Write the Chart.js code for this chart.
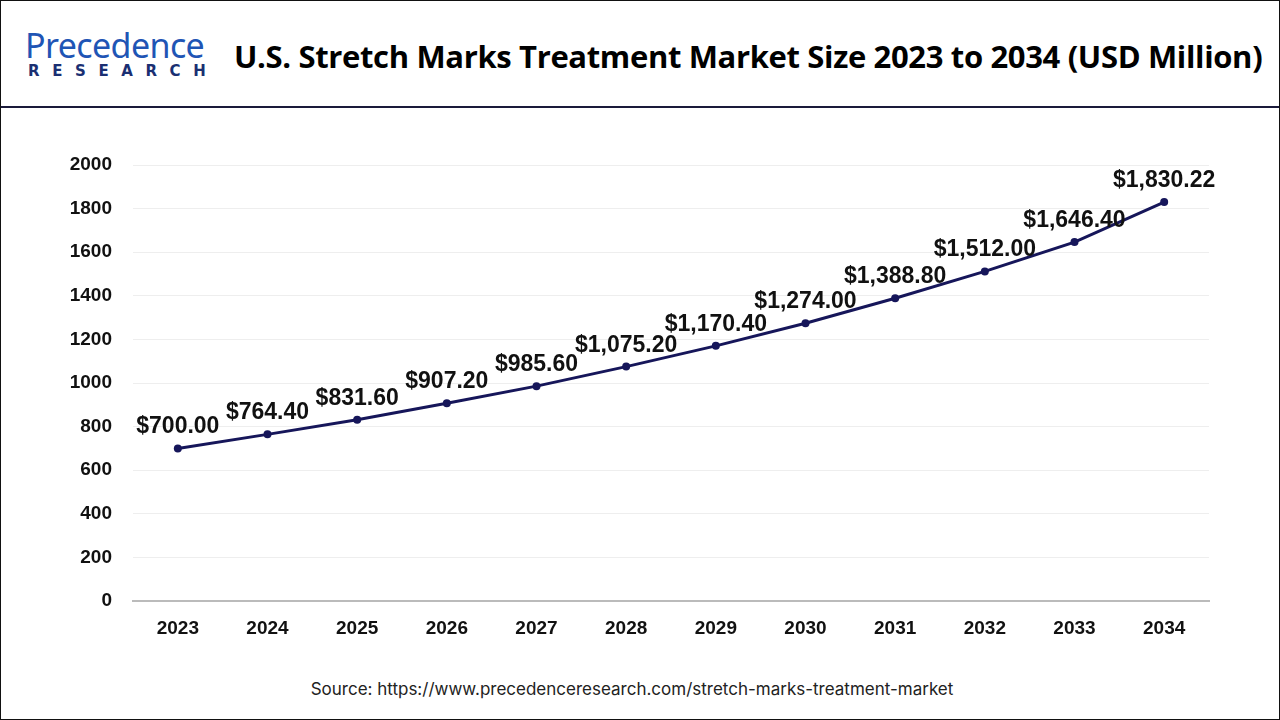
<!DOCTYPE html>
<html>
<head>
<meta charset="utf-8">
<script src="https://cdn.jsdelivr.net/npm/chart.js@4.4.0/dist/chart.umd.min.js"></script>
<style>
  html, body { margin:0; padding:0; background:#fff; }
  #frame { position:absolute; left:0; top:0; width:1278px; height:718px; border:1px solid #111; overflow:hidden; }
  #header { position:absolute; left:0; top:0; width:1278px; height:105px; border-bottom:2px solid #1a1a3a; }
  #logo1 { position:absolute; left:24px; top:26px; font-family:"Noto Sans", sans-serif; font-size:34px; color:#1f55b5; letter-spacing:-0.6px; line-height:36px; }
  #logo2 { position:absolute; left:27px; top:62px; font-family:"DejaVu Sans", sans-serif; font-weight:bold; font-size:15px; color:#1a2f72; letter-spacing:12.6px; line-height:16px; }
  #title { position:absolute; left:233px; top:34px; font-family:"Open Sans", sans-serif; font-weight:bold; font-size:31px; color:#000; line-height:42px; white-space:nowrap; letter-spacing:-0.35px; }
  #wrap { position:absolute; left:0; top:110px; width:1278px; height:560px; }
  #source { position:absolute; left:-8px; width:1278px; top:678px; text-align:center; font-family:"Inter", sans-serif; font-size:17px; color:#222; }
</style>
</head>
<body>
<div id="frame">
  <div id="header">
    <div id="logo1">Precedence</div>
    <div id="logo2">RESEARCH</div>
    <div id="title">U.S. Stretch Marks Treatment Market Size 2023 to 2034 (USD Million)</div>
  </div>
  <div id="wrap"><canvas id="c"></canvas></div>
  <div id="source">Source: https://www.precedenceresearch.com/stretch-marks-treatment-market</div>
</div>
<script>
const years = ["2023","2024","2025","2026","2027","2028","2029","2030","2031","2032","2033","2034"];
const marketSize = [700.00, 764.40, 831.60, 907.20, 985.60, 1075.20, 1170.40, 1274.00, 1388.80, 1512.00, 1646.40, 1830.22];
const yTicks = [0, 200, 400, 600, 800, 1000, 1200, 1400, 1600, 1800, 2000];

function fmt(v) {
  return "$" + v.toLocaleString("en-US", {minimumFractionDigits:2, maximumFractionDigits:2});
}

const labelPlugin = {
  id: "valueLabels",
  afterDatasetsDraw(chart) {
    const ctx = chart.ctx;
    const meta = chart.getDatasetMeta(0);
    ctx.save();
    ctx.font = "bold 23px 'Liberation Sans', Arial, sans-serif";
    ctx.fillStyle = "#111";
    ctx.textAlign = "center";
    ctx.textBaseline = "alphabetic";
    meta.data.forEach((pt, i) => {
      ctx.fillText(fmt(marketSize[i]), pt.x, pt.y - 15);
    });
    ctx.restore();
  }
};

new Chart(document.getElementById("c"), {
  type: "line",
  data: {
    labels: years,
    datasets: [{
      data: marketSize,
      borderColor: "#16165a",
      backgroundColor: "#16165a",
      borderWidth: 3,
      pointRadius: 4,
      pointBackgroundColor: "#16165a",
      pointBorderWidth: 0,
      tension: 0,
      clip: false
    }]
  },
  options: {
    responsive: true,
    maintainAspectRatio: false,
    animation: false,
    layout: { padding: { left: 0, right: 70, top: 54, bottom: 0 } },
    plugins: { legend: { display:false }, tooltip: { enabled:false } },
    scales: {
      x: {
        type: "category",
        offset: true,
        grid: { display:false, drawTicks:false },
        border: { display:true, color:"#bbbbbb", width:2 },
        ticks: { color:"#111", padding:16, font:{ family:"'Liberation Sans', Arial, sans-serif", size:19, weight:"bold" } },
        afterFit(scale) { scale.height = 70; }
      },
      y: {
        min: 0, max: 2000,
        afterBuildTicks(scale) { scale.ticks = yTicks.map(v => ({ value: v })); },
        grid: { color:"#eeeeee", lineWidth:1, drawTicks:false },
        border: { display:false },
        ticks: { color:"#111", padding:21, callback: (v) => String(v), font:{ family:"'Liberation Sans', Arial, sans-serif", size:19, weight:"bold" } },
        afterFit(scale) { scale.width = 132; }
      }
    }
  },
  plugins: [labelPlugin]
});
</script>
</body>
</html>
